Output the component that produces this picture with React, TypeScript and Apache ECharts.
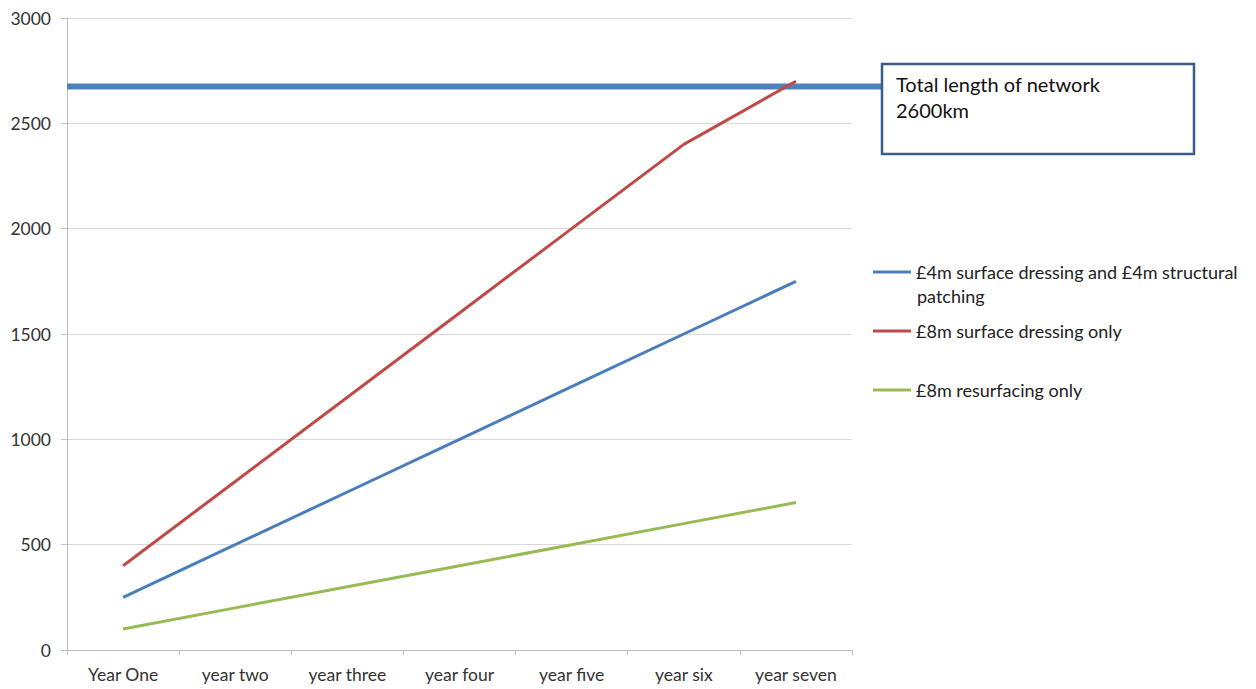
import React, { useEffect, useRef } from "react";
import * as echarts from "echarts";

const categories = ["Year One", "year two", "year three", "year four", "year five", "year six", "year seven"];
const seriesNames = [
  "£4m surface dressing and £4m structural patching",
  "£8m surface dressing only",
  "£8m resurfacing only",
];
const blueValues = [250, 500, 750, 1000, 1250, 1500, 1750];
const redValues = [400, 800, 1200, 1600, 2000, 2400, 2700];
const greenValues = [100, 200, 300, 400, 500, 600, 700];
const networkLength = 2675;
const annotationLines = ["Total length of network", "2600km"];
const yTicks = { min: 0, max: 3000, interval: 500 };

const colors = ["#4A7EBB", "#BE4B48", "#98B954"];
const FONT = "Lato, 'Open Sans', sans-serif";

export default function App() {
  const ref = useRef<HTMLDivElement>(null);
  useEffect(() => {
    if (!ref.current) return;
    const chart = echarts.init(ref.current, null, { renderer: "svg" });
    const legendTops = [262, 321, 380];
    const option: any = {
      animation: false,
      backgroundColor: "#fff",
      textStyle: { fontFamily: FONT },
      grid: { left: 67, right: 404, top: 18, bottom: 39 },
      xAxis: {
        type: "category",
        data: categories,
        boundaryGap: true,
        axisLine: { lineStyle: { color: "#BFBFBF", width: 1 } },
        axisTick: { show: true, length: 5, lineStyle: { color: "#BFBFBF" } },
        axisLabel: { color: "#333", fontSize: 17.5, fontFamily: FONT, margin: 15 },
        splitLine: { show: false },
      },
      yAxis: {
        type: "value",
        min: yTicks.min,
        max: yTicks.max,
        interval: yTicks.interval,
        axisLine: { show: true, lineStyle: { color: "#BFBFBF", width: 1 } },
        axisTick: { show: true, length: 6, lineStyle: { color: "#BFBFBF" } },
        axisLabel: {
          color: "#333",
          fontSize: 17.5,
          fontFamily: FONT,
          margin: 16,
          formatter: (v: number) => String(v),
        },
        splitLine: { show: true, lineStyle: { color: "#D9D9D9", width: 1 } },
      },
      legend: seriesNames.map((n, i) => ({
        orient: "vertical",
        left: 873,
        top: legendTops[i],
        padding: 0,
        itemWidth: 38,
        itemHeight: 3,
        itemGap: 6,
        icon: "rect",
        data: [n],
        selectedMode: false,
        formatter: (name: string) => (i === 0 ? "£4m surface dressing and £4m structural" : name),
        textStyle: { fontSize: 18, color: "#222", fontFamily: FONT, lineHeight: 20 },
      })),
      series: [blueValues, redValues, greenValues].map((d, i) => ({
        name: seriesNames[i],
        type: "line",
        data: d,
        symbol: "none",
        lineStyle: { width: 3, color: colors[i] },
        itemStyle: { color: colors[i] },
        z: 3,
      })),
    };
    chart.setOption(option);
    const yRef = chart.convertToPixel({ yAxisIndex: 0 }, networkLength) as number;
    chart.setOption({
      graphic: [
        {
          type: "line",
          z: 1,
          shape: { x1: 67, y1: yRef, x2: 882, y2: yRef },
          style: { stroke: "#4F81BD", lineWidth: 6 },
        },
        {
          type: "rect",
          z: 10,
          shape: { x: 882, y: 64, width: 312, height: 90 },
          style: { fill: "#fff", stroke: "#385D8A", lineWidth: 2.5 },
        },
        {
          type: "text",
          z: 11,
          x: 896,
          y: 71,
          style: {
            text: annotationLines.join("\n"),
            fontSize: 20,
            lineHeight: 26,
            fontFamily: FONT,
            fill: "#111",
          },
        },
        {
          type: "text",
          z: 11,
          x: 917,
          y: 296,
          style: {
            text: "patching",
            fontSize: 18,
            fontFamily: FONT,
            fill: "#222",
            verticalAlign: "middle",
          },
        },
      ],
    });
    return () => chart.dispose();
  }, []);
  return (
    <div
      ref={ref}
      style={{ position: "fixed", left: 0, top: 0, width: 1256, height: 689, background: "#fff" }}
    />
  );
}
